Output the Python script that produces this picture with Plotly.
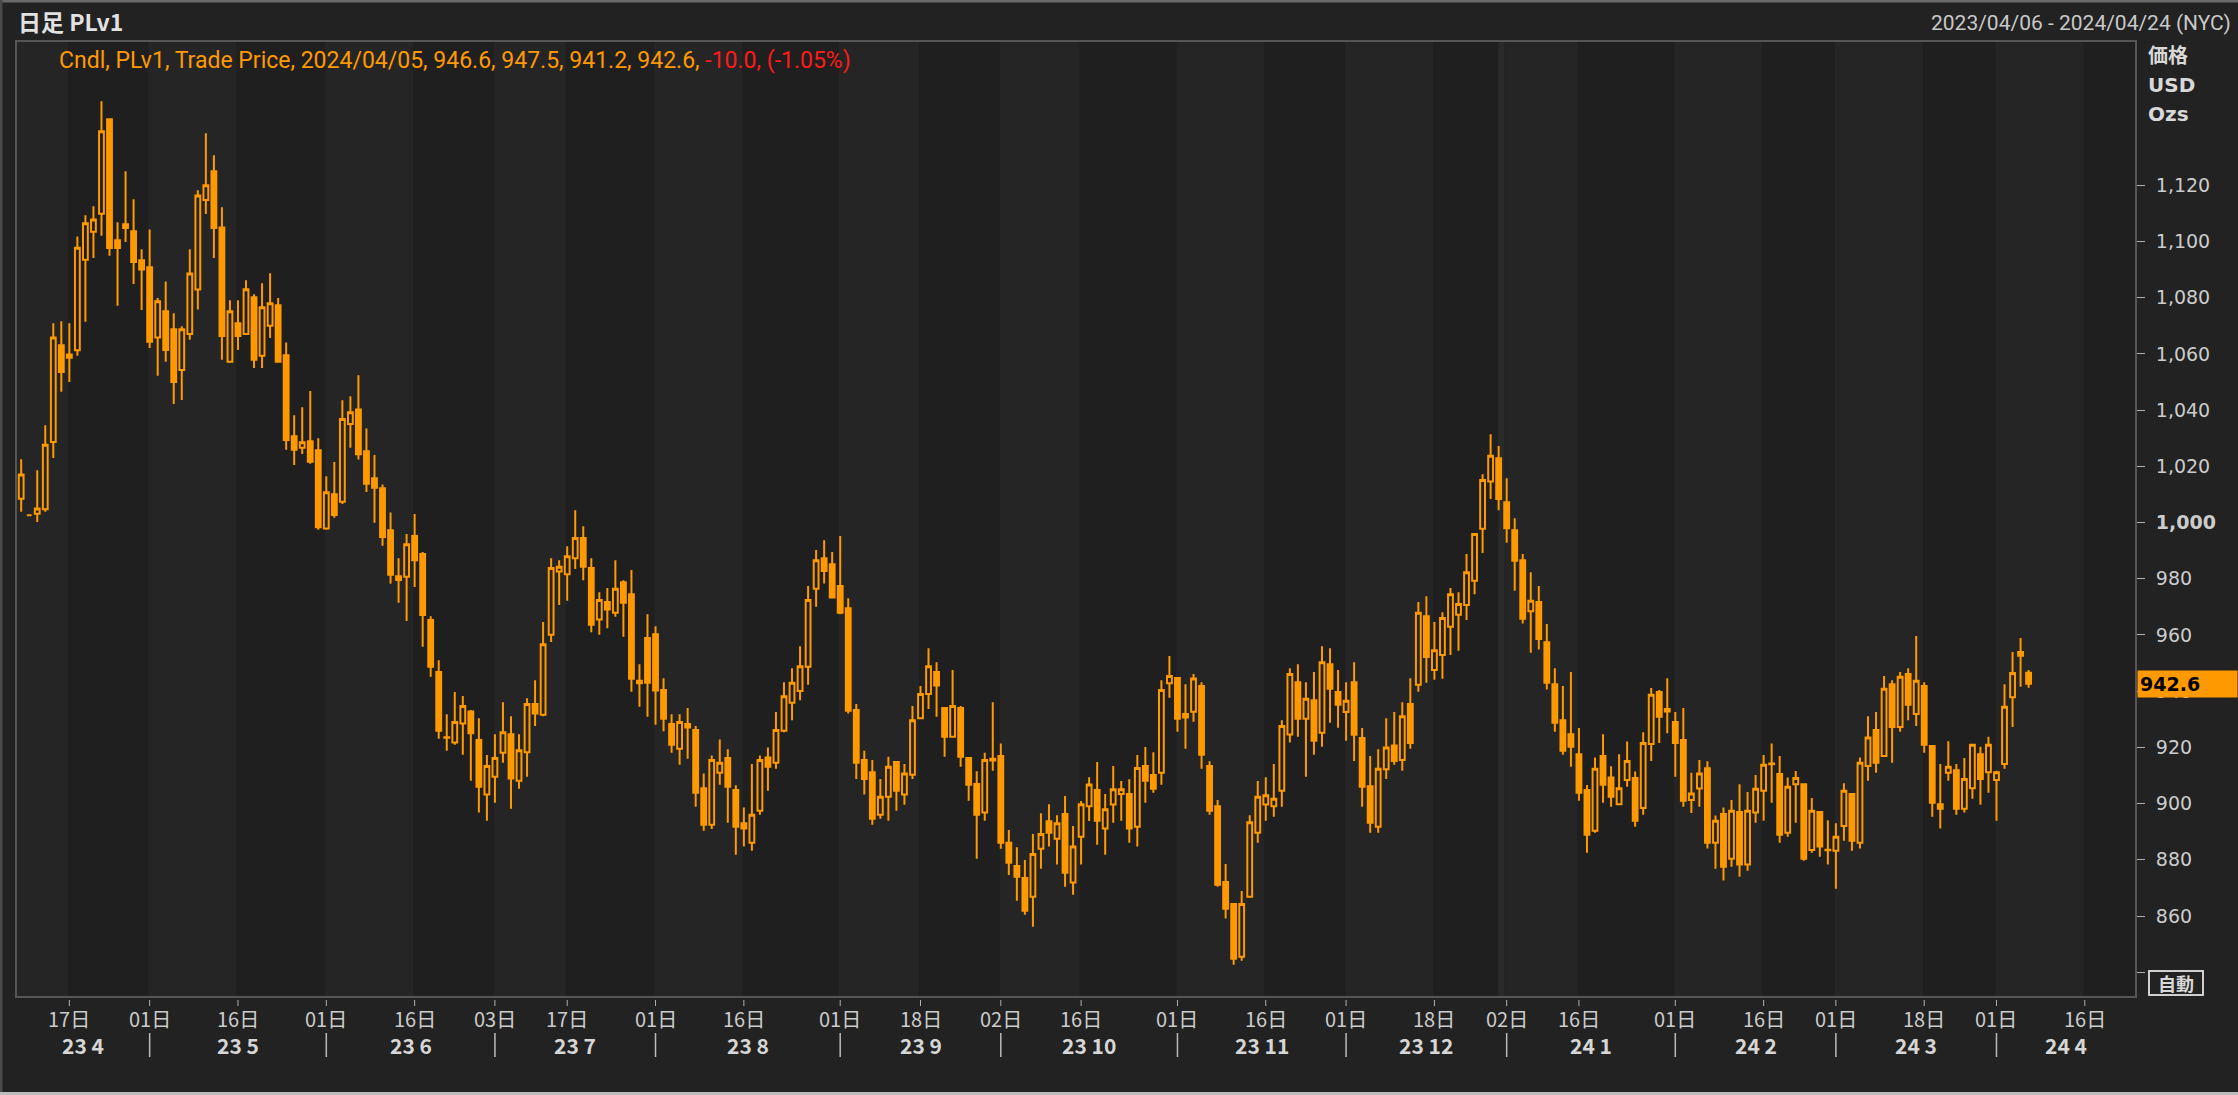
import pandas as pd
import plotly.graph_objects as go

# ------------------------------------------------------------------ data
opens = [
    1008.5, 1002.6, 1003.1, 1004.7, 1028.7, 1063.1, 1059.8, 1061.3, 1093.5, 1103.5,
    1109.9, 1143.5, 1100.4, 1106.1, 1103.6, 1093.3, 1090.8, 1065.8, 1075.2, 1068.8,
    1054.3, 1067.1, 1082.9, 1114.8, 1125.0, 1105.0, 1057.2, 1070.9, 1067.1, 1080.2,
    1059.3, 1070.0, 1077.3, 1059.5, 1030.7, 1026.6, 1028.9, 1025.7, 997.9, 1010.1,
    1007.4, 1035.1, 1040.2, 1025.4, 1015.8, 1012.2, 997.3, 980.9, 980.7, 995.2,
    988.8, 965.3, 946.8, 923.6, 921.7, 928.5, 932.8, 922.6, 903.2, 909.6,
    918.1, 924.7, 908.1, 918.3, 935.4, 931.6, 960.1, 982.6, 981.6, 987.3,
    994.5, 983.8, 965.5, 971.7, 967.9, 978.8, 974.5, 943.7, 958.9, 960.3,
    940.4, 928.3, 919.5, 928.3, 926.2, 905.5, 892.5, 911.0, 916.2, 904.8,
    893.0, 886.1, 897.5, 916.4, 914.5, 925.9, 935.9, 940.1, 948.7, 976.4,
    987.3, 985.2, 977.4, 969.5, 933.3, 915.5, 911.2, 896.0, 902.4, 914.8,
    903.2, 910.3, 930.4, 939.0, 946.8, 934.0, 923.8, 934.0, 916.2, 907.0,
    896.8, 916.0, 916.9, 886.1, 877.8, 873.5, 866.9, 883.9, 893.7, 887.5,
    896.3, 871.9, 888.2, 899.1, 904.8, 891.1, 899.7, 903.4, 903.4, 891.8,
    913.4, 910.2, 911.0, 942.8, 944.7, 931.9, 932.7, 941.8, 913.4, 899.1,
    872.1, 864.3, 845.5, 866.9, 889.6, 899.7, 899.1, 904.6, 924.6, 943.2,
    930.2, 936.8, 925.2, 949.6, 939.7, 932.6, 943.2, 923.3, 906.2, 891.8,
    912.2, 920.7, 915.5, 935.4, 942.3, 966.7, 947.5, 952.9, 962.9, 967.2,
    970.7, 979.3, 997.8, 1014.6, 1022.9, 1007.2, 997.3, 986.6, 968.4, 971.7,
    957.4, 942.5, 929.7, 924.7, 917.6, 904.8, 890.3, 916.9, 909.3, 899.8,
    908.4, 909.1, 898.4, 921.2, 939.7, 933.7, 929.0, 922.6, 901.3, 905.4,
    912.6, 886.1, 896.3, 880.4, 897.0, 878.3, 896.8, 904.6, 914.3, 910.5,
    889.6, 906.9, 906.9, 883.5, 897.0, 883.6, 883.2, 892.0, 903.4, 886.1,
    913.4, 926.2, 916.9, 942.5, 927.3, 946.1, 931.9, 941.8, 920.5, 899.8,
    911.0, 911.9, 898.2, 905.5, 917.6, 911.2, 908.4, 914.1, 937.8, 953.9,
    946.6,
]
highs = [
    1022.5, 1002.6, 1018.6, 1034.6, 1070.9, 1071.6, 1070.9, 1101.8, 1109.3, 1112.5,
    1149.9, 1143.5, 1106.8, 1125.0, 1115.0, 1097.2, 1104.3, 1079.9, 1085.8, 1074.5,
    1069.8, 1097.2, 1118.2, 1138.5, 1130.7, 1112.2, 1079.1, 1079.1, 1086.2, 1081.2,
    1085.1, 1088.7, 1079.9, 1064.1, 1038.2, 1041.0, 1046.8, 1030.0, 1016.5, 1021.5,
    1043.5, 1044.9, 1052.4, 1033.5, 1024.0, 1013.5, 1003.6, 987.3, 995.9, 1003.0,
    989.5, 966.7, 951.0, 931.8, 939.7, 938.3, 933.3, 930.4, 917.3, 924.7,
    936.1, 931.1, 924.7, 937.5, 943.9, 964.6, 987.3, 986.6, 991.6, 1004.4,
    998.7, 987.3, 975.2, 976.7, 986.6, 979.5, 983.1, 949.6, 967.4, 963.1,
    944.6, 931.8, 931.8, 934.0, 927.6, 910.7, 917.1, 922.8, 919.3, 906.5,
    898.6, 914.1, 917.1, 920.0, 932.6, 943.2, 948.2, 956.0, 977.4, 990.2,
    993.7, 989.5, 995.2, 973.1, 935.4, 918.8, 915.5, 908.8, 916.7, 914.8,
    914.1, 934.7, 941.8, 955.3, 950.3, 934.0, 947.5, 934.7, 916.4, 911.5,
    918.1, 936.1, 921.4, 890.6, 884.5, 879.9, 889.2, 896.6, 899.8, 895.9,
    902.7, 892.0, 900.9, 909.4, 914.8, 903.4, 913.4, 908.0, 908.7, 917.3,
    920.1, 918.3, 943.9, 952.5, 944.7, 942.5, 946.1, 943.2, 915.1, 901.3,
    878.5, 864.5, 868.9, 895.9, 908.0, 909.4, 914.1, 929.7, 948.2, 949.6,
    943.2, 946.8, 956.0, 955.3, 947.5, 943.2, 950.3, 926.9, 916.9, 919.3,
    930.4, 932.6, 936.1, 944.6, 971.7, 973.8, 964.6, 968.1, 976.7, 975.2,
    988.8, 995.9, 1017.2, 1031.4, 1027.2, 1015.8, 1001.5, 988.8, 982.3, 977.4,
    963.9, 948.2, 941.8, 946.8, 926.9, 906.6, 916.4, 924.7, 913.3, 917.6,
    922.1, 911.4, 925.4, 941.1, 940.4, 944.6, 932.6, 934.0, 911.0, 915.5,
    915.1, 895.8, 898.6, 901.3, 906.9, 904.1, 910.2, 917.3, 921.4, 916.9,
    909.3, 911.6, 907.2, 902.0, 897.2, 894.1, 893.0, 907.2, 903.6, 916.4,
    931.1, 932.6, 945.4, 943.9, 946.8, 948.2, 959.6, 943.2, 920.5, 914.1,
    922.2, 914.1, 916.2, 921.2, 920.2, 923.8, 911.7, 942.5, 953.9, 958.9,
    947.5,
]
lows = [
    1003.8, 1002.6, 1000.2, 1003.8, 1023.0, 1046.5, 1050.0, 1059.3, 1071.4, 1094.1,
    1102.0, 1094.9, 1077.1, 1099.8, 1084.9, 1075.6, 1062.1, 1052.2, 1057.2, 1042.2,
    1043.6, 1065.0, 1075.8, 1109.8, 1094.1, 1057.9, 1057.2, 1061.4, 1067.1, 1055.0,
    1055.0, 1065.7, 1057.2, 1025.9, 1020.5, 1024.4, 1020.9, 997.4, 997.4, 1001.7,
    1006.6, 1026.6, 1022.4, 1010.9, 999.9, 991.7, 978.2, 971.5, 965.0, 977.1,
    955.8, 945.1, 923.1, 918.8, 920.9, 917.4, 908.1, 896.8, 893.9, 900.3,
    914.5, 898.2, 905.3, 909.6, 927.6, 931.1, 957.5, 970.7, 972.2, 983.5,
    979.5, 961.0, 960.1, 962.4, 966.5, 959.4, 939.8, 934.5, 930.9, 928.1,
    925.7, 918.1, 913.8, 916.0, 898.9, 890.3, 891.0, 906.7, 893.2, 881.8,
    884.7, 883.2, 896.0, 904.6, 912.4, 925.4, 929.7, 936.8, 942.3, 970.0,
    978.3, 973.1, 967.4, 932.1, 908.8, 903.2, 892.5, 894.6, 893.9, 897.5,
    899.6, 908.8, 930.2, 933.7, 930.9, 916.7, 923.8, 913.1, 901.0, 880.4,
    893.9, 911.7, 883.9, 874.6, 865.4, 860.5, 856.2, 876.8, 884.7, 878.3,
    870.4, 867.6, 878.3, 893.8, 885.4, 881.8, 893.2, 893.9, 886.1, 884.7,
    900.3, 903.9, 906.7, 937.7, 925.6, 919.5, 929.1, 912.4, 896.0, 870.4,
    859.1, 842.7, 844.1, 866.9, 886.1, 893.9, 895.3, 898.9, 921.7, 923.8,
    909.6, 917.4, 920.2, 928.8, 927.0, 922.4, 915.2, 898.9, 889.6, 889.6,
    908.8, 913.8, 911.7, 919.5, 939.8, 943.0, 944.1, 944.4, 952.9, 954.4,
    965.3, 974.5, 989.2, 1008.4, 1004.4, 992.8, 975.7, 964.1, 953.7, 954.8,
    940.6, 925.6, 917.4, 913.1, 901.0, 882.5, 889.6, 900.3, 898.9, 899.6,
    906.0, 891.8, 896.0, 915.2, 921.6, 925.0, 909.6, 898.9, 896.7, 898.9,
    884.0, 876.8, 872.6, 877.5, 874.0, 876.1, 893.2, 893.9, 900.3, 886.1,
    888.2, 893.2, 879.7, 882.5, 881.1, 878.3, 869.7, 886.8, 883.2, 884.0,
    908.1, 911.0, 916.9, 914.5, 925.6, 929.7, 927.6, 918.1, 895.3, 891.1,
    908.1, 896.0, 896.8, 901.7, 899.6, 903.9, 893.9, 912.4, 927.3, 941.6,
    941.2,
]
closes = [
    1017.1, 1002.6, 1005.0, 1027.7, 1065.8, 1053.6, 1058.6, 1097.8, 1106.5, 1107.8,
    1139.2, 1097.7, 1097.7, 1104.8, 1092.7, 1090.0, 1064.3, 1078.7, 1061.4, 1050.0,
    1068.8, 1088.6, 1116.4, 1120.0, 1104.8, 1066.4, 1075.2, 1066.4, 1083.0, 1057.9,
    1076.6, 1078.0, 1057.2, 1029.4, 1025.9, 1028.6, 1021.6, 998.3, 1010.8, 1002.7,
    1036.8, 1039.2, 1024.3, 1013.8, 1012.4, 994.9, 981.4, 979.6, 992.3, 986.6,
    967.1, 948.7, 925.9, 923.4, 929.0, 934.7, 925.0, 906.0, 913.4, 916.2,
    925.4, 908.9, 919.0, 935.4, 932.1, 956.7, 983.8, 984.3, 988.0, 994.5,
    984.3, 963.6, 972.4, 969.1, 976.4, 971.5, 944.4, 942.8, 943.0, 940.2,
    930.2, 920.9, 929.0, 927.1, 903.9, 892.5, 915.5, 914.5, 906.0, 891.8,
    891.1, 896.0, 915.5, 913.1, 926.2, 938.2, 943.0, 948.9, 972.4, 986.6,
    982.8, 973.3, 967.9, 933.0, 914.5, 908.8, 894.6, 902.4, 913.1, 904.6,
    910.7, 929.7, 939.0, 948.9, 942.0, 923.8, 934.7, 916.7, 906.7, 896.0,
    915.5, 915.3, 886.1, 879.0, 874.0, 861.9, 882.1, 889.2, 889.6, 893.0,
    875.4, 884.7, 899.8, 906.8, 893.9, 898.0, 905.1, 905.1, 891.1, 912.7,
    908.1, 905.3, 940.4, 945.4, 930.2, 930.6, 944.5, 917.4, 897.5, 871.1,
    862.6, 844.8, 864.3, 893.4, 902.4, 903.0, 901.7, 927.6, 946.1, 930.2,
    937.3, 922.4, 950.3, 940.9, 935.2, 936.6, 924.5, 906.0, 893.2, 912.4,
    920.0, 915.2, 931.1, 921.6, 967.9, 952.2, 954.6, 966.0, 974.5, 971.0,
    982.3, 995.9, 1015.1, 1023.8, 1008.4, 998.0, 986.4, 965.8, 972.2, 958.6,
    943.0, 928.8, 918.8, 920.2, 903.9, 888.9, 912.4, 906.7, 902.4, 905.5,
    915.2, 893.9, 921.6, 938.7, 930.9, 932.8, 921.6, 901.0, 903.6, 910.7,
    886.1, 893.9, 877.5, 897.5, 878.3, 897.5, 905.3, 913.8, 914.0, 888.9,
    906.0, 909.1, 880.4, 897.5, 884.7, 883.4, 888.2, 904.6, 886.8, 914.5,
    923.5, 914.5, 940.9, 927.3, 945.1, 935.2, 943.7, 920.9, 900.3, 898.2,
    913.1, 898.2, 908.8, 920.9, 908.8, 920.9, 911.2, 934.5, 946.5, 952.6,
    942.6,
]

START_DATE = "2023-04-06"
AXIS_END_DATE = "2024-04-24"
MARKET_HOLIDAYS = [
    "2023-04-07", "2023-05-29", "2023-06-19", "2023-07-04", "2023-09-04",
    "2023-11-23", "2023-12-25", "2024-01-01", "2024-01-15", "2024-02-19",
    "2024-03-29",
]
PRICE_TICKS = [840, 860, 880, 900, 920, 940, 960, 980, 1000,
               1020, 1040, 1060, 1080, 1100, 1120]
Y_RANGE = [831.55, 1170.97]

# ------------------------------------------------------------------ style
W, H = 2238, 1095
ML, MR, MT, MB = 17, 103, 42, 99
PW, PH = W - ML - MR, H - MT - MB
ORANGE = "#ff9900"
PAPER = "#222222"
BAND_LIGHT = "#252525"
BAND_DARK = "#1f1f1f"
YEAR_LINE = "#2a2a2a"
FRAME = "#555555"
TXT = "#cccccc"
CJK = "Noto Sans CJK JP"


def px_x(px):
    return (px - ML) / PW


def px_y(py):
    return (H - MB - py) / PH


# trading-day calendar (category slots of the axis)
days = [d for d in pd.bdate_range(START_DATE, AXIS_END_DATE)
        if d.strftime("%Y-%m-%d") not in MARKET_HOLIDAYS]
n_slots = len(days)
x_idx = list(range(len(opens)))
X_RANGE = [-0.52, n_slots - 1 + 0.25]


def first_idx_on_or_after(ts):
    for i, d in enumerate(days):
        if d >= ts:
            return i
    return None


half_starts = []   # (index, is first half of month)
month_starts = []
for per in pd.period_range(START_DATE, AXIS_END_DATE, freq="M"):
    for dd in (1, 16):
        i = first_idx_on_or_after(pd.Timestamp(per.year, per.month, dd))
        if i is None or i == 0:
            continue
        half_starts.append((i, dd == 1))
        if dd == 1:
            month_starts.append(i)

shapes = []
annotations = []

# half-month background bands
edges = [X_RANGE[0]] + [i - 0.15 for i, _ in half_starts] + [X_RANGE[1]]
light = [True] + [f for _, f in half_starts]
for k in range(len(edges) - 1):
    shapes.append(dict(type="rect", xref="x", yref="paper",
                       x0=edges[k], x1=edges[k + 1], y0=0, y1=1,
                       fillcolor=BAND_LIGHT if light[k] else BAND_DARK,
                       line_width=0, layer="below"))

# year separator
jan_idx = first_idx_on_or_after(pd.Timestamp(2024, 1, 1))
shapes.append(dict(type="rect", xref="x", yref="paper",
                   x0=jan_idx - 1.05, x1=jan_idx - 0.25, y0=0, y1=1,
                   fillcolor=YEAR_LINE, line_width=0, layer="below"))

# x tick marks + labels
for i, _ in half_starts:
    shapes.append(dict(type="line", xref="x", yref="paper", x0=i, x1=i,
                       y0=px_y(1000), y1=px_y(1006),
                       line=dict(color="#b0b0b0", width=1)))
    annotations.append(dict(xref="x", yref="paper", x=i, y=px_y(1018),
                            text=f"{days[i].day:02d}日", showarrow=False,
                            xanchor="center", yanchor="middle",
                            font=dict(family=CJK, size=20, color=TXT)))

# month separators and month labels
for i in month_starts:
    shapes.append(dict(type="line", xref="x", yref="paper", x0=i, x1=i,
                       y0=px_y(1033), y1=px_y(1057),
                       line=dict(color="#bbbbbb", width=1.5)))
seg_edges = [X_RANGE[0]] + month_starts + [X_RANGE[1]]
seg_first = [0] + month_starts
for k in range(len(seg_edges) - 1):
    d = days[seg_first[k]]
    annotations.append(dict(xref="x", yref="paper",
                            x=(seg_edges[k] + seg_edges[k + 1]) / 2, y=px_y(1045),
                            text=f"<b>{d.year % 100} {d.month}</b>", showarrow=False,
                            xanchor="center", yanchor="middle",
                            font=dict(family=CJK, size=21, color="#d6d6d6")))

# outer frame lines
shapes += [
    dict(type="line", xref="paper", yref="paper", x0=px_x(0), x1=px_x(W),
         y0=px_y(1), y1=px_y(1), line=dict(color="#6a6a6a", width=3)),
    dict(type="line", xref="paper", yref="paper", x0=px_x(1), x1=px_x(1),
         y0=px_y(0), y1=px_y(H), line=dict(color="#4a4a4a", width=3)),
    dict(type="line", xref="paper", yref="paper", x0=px_x(0), x1=px_x(W),
         y0=px_y(H - 1.5), y1=px_y(H - 1.5), line=dict(color="#bdbdbd", width=3)),
]

# header texts
last_d = days[len(closes) - 1]
chg = closes[-1] - closes[-2]
pct = chg / closes[-2] * 100
legend_txt = (f"Cndl, PLv1, Trade Price, {last_d.strftime('%Y/%m/%d')}, "
              f"{opens[-1]:.1f}, {highs[-1]:.1f}, {lows[-1]:.1f}, {closes[-1]:.1f}, "
              f"<span style='color:#ff1a1a'>{chg:.1f}, ({pct:.2f}%)</span>")
range_txt = (f"{pd.Timestamp(START_DATE).strftime('%Y/%m/%d')} - "
             f"{pd.Timestamp(AXIS_END_DATE).strftime('%Y/%m/%d')} (NYC)")
annotations += [
    dict(xref="paper", yref="paper", x=px_x(16), y=px_y(21), text="<b>日足 PLv1</b>",
         showarrow=False, xanchor="left", yanchor="middle",
         font=dict(family=CJK, size=23, color="#e2e2e2")),
    dict(xref="paper", yref="paper", x=px_x(57), y=px_y(61), text=legend_txt,
         showarrow=False, xanchor="left", yanchor="middle",
         font=dict(family="Roboto", size=23, color=ORANGE)),
    dict(xref="paper", yref="paper", x=px_x(2233), y=px_y(23), text=range_txt,
         showarrow=False, xanchor="right", yanchor="middle",
         font=dict(family="Roboto", size=21, color="#c8c8c8")),
    dict(xref="paper", yref="paper", x=px_x(2146), y=px_y(55), text="<b>価格</b>",
         showarrow=False, xanchor="left", yanchor="middle",
         font=dict(family=CJK, size=20, color="#d8d8d8")),
    dict(xref="paper", yref="paper", x=px_x(2146), y=px_y(85), text="<b>USD</b>",
         showarrow=False, xanchor="left", yanchor="middle",
         font=dict(family="DejaVu Sans", size=20, color="#d8d8d8")),
    dict(xref="paper", yref="paper", x=px_x(2146), y=px_y(114), text="<b>Ozs</b>",
         showarrow=False, xanchor="left", yanchor="middle",
         font=dict(family="DejaVu Sans", size=20, color="#d8d8d8")),
    # last price tag
    dict(xref="paper", yref="y", x=px_x(2137), y=closes[-1],
         text=f"<b>{closes[-1]:.1f}</b>", showarrow=False,
         xanchor="left", yanchor="middle", align="left",
         bgcolor=ORANGE, borderpad=2, width=95, height=22,
         font=dict(family="DejaVu Sans", size=19, color="#000000")),
    # auto-scale button
    dict(xref="paper", yref="paper", x=px_x(2176), y=px_y(983),
         text="<b>自動</b>", showarrow=False, xanchor="center", yanchor="middle",
         bgcolor=PAPER, bordercolor="#cfcfcf", borderwidth=2, borderpad=0,
         width=52, height=22,
         font=dict(family=CJK, size=18, color="#d8d8d8")),
]

tick_text = []
for v in PRICE_TICKS:
    if v == 840:
        tick_text.append("")
    elif v == 1000:
        tick_text.append(f"<b>{v:,}</b>")
    else:
        tick_text.append(f"{v:,}")

fig = go.Figure(go.Candlestick(
    x=x_idx, open=opens, high=highs, low=lows, close=closes,
    increasing=dict(line=dict(color=ORANGE, width=2), fillcolor="rgba(0,0,0,0)"),
    decreasing=dict(line=dict(color=ORANGE, width=2), fillcolor=ORANGE),
    whiskerwidth=0, showlegend=False, hoverinfo="skip",
))

fig.update_layout(
    width=W, height=H,
    margin=dict(l=ML, r=MR, t=MT, b=MB, pad=0),
    paper_bgcolor=PAPER, plot_bgcolor=BAND_DARK,
    boxgap=0.2, boxgroupgap=0.25,
    showlegend=False,
    shapes=shapes, annotations=annotations,
    xaxis=dict(range=X_RANGE, showticklabels=False, ticks="", showgrid=False,
               zeroline=False, showline=True, linecolor=FRAME, linewidth=2,
               mirror=True, rangeslider=dict(visible=False), fixedrange=True),
    yaxis=dict(range=Y_RANGE, side="right", tickvals=PRICE_TICKS, ticktext=tick_text,
               ticks="outside", ticklen=8, tickwidth=1, tickcolor="#b0b0b0",
               tickfont=dict(family="DejaVu Sans", size=19, color=TXT),
               showgrid=False, zeroline=False, showline=True, linecolor=FRAME,
               linewidth=2, mirror=True, ticklabelstandoff=7, fixedrange=True),
)

fig.write_html(
    "out.html",
    config={"displayModeBar": False},
    post_script="document.body.style.margin='0';document.body.style.overflow='hidden';",
)
